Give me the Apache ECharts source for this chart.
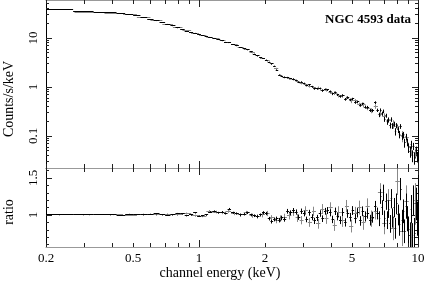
<!DOCTYPE html>
<html><head><meta charset="utf-8">
<script src="https://cdn.jsdelivr.net/npm/echarts@6/dist/echarts.min.js"></script>
<style>html,body{margin:0;padding:0;background:#fff}#c{width:436px;height:285px}</style>
</head><body><div id="c"></div>
<script>
// ---- black (pn) spectrum: bin edges (keV), counts/s/keV, data/model ratio and its error
const pnEdges = [0.200,0.266,0.330,0.372,0.420,0.460,0.500,0.540,0.580,0.620,0.660,0.700,0.740,0.780,0.820,0.860,0.900,0.940,0.980,
  1.02,1.06,1.10,1.15,1.20,1.25,1.30,1.35,1.40,1.46,1.52,1.58,1.64,1.70,1.76,1.82,1.88,1.94,2.00,
  2.06,2.12,2.18,2.24,2.30,2.36,2.42,2.50,2.58,2.66,2.74,2.82,2.90,2.98,3.06,3.15,3.24,3.33,3.42,3.52,3.62,3.72,3.82,3.92,
  4.03,4.14,4.25,4.36,4.48,4.60,4.72,4.85,4.98,5.11,5.25,5.39,5.53,5.68,5.83,5.98,
  6.14,6.30,6.46,6.63,
  6.72,6.81,6.90,7.00,7.10,7.20,7.30,7.40,7.51,7.62,7.73,7.84,7.95,8.06,8.18,8.30,8.42,8.54,8.66,
  8.78,8.90,9.02,9.14,9.26,9.38,9.50,9.62,9.74,9.87,10.0];
const pnCounts = [38.5,34,33.7,32.8,31.3,30.2,28.5,26.2,23.8,22.3,
  20.6,19.0,17.6,16.0,14.7,13.5,13.0,12.5,11.6,11.1,10.6,
  10.3,9.9,9.2,8.8,8.2,8.0,7.4,6.9,6.4,6.0,5.7,5.2,4.7,4.3,3.95,3.8,3.55,
  3.2,2.95,2.65,2.2,1.75,1.65,1.57,1.56,1.48,1.45,1.36,1.25,1.26,1.18,1.07,1.10,1.01,0.92,0.92,0.93,0.84,0.89,0.87,0.81,
  0.72,0.77,0.69,0.64,0.67,0.56,0.61,0.545,0.57,0.485,0.495,0.425,0.45,0.39,0.385,0.335,0.33,0.48,
  0.335,
  0.271,0.338,0.284,0.319,0.220,0.260,0.194,0.214,0.165,0.217,0.161,0.175,0.123,0.163,0.133,0.108,0.157,0.099,0.105,0.0725,
  0.096,0.075,0.058,0.048,0.067,0.040,0.062,0.036,0.051,0.038];
const pnRatio = [1.00,1.00,1.005,1.00,0.995,1.01,1.005,1.00,1.01,1.015,
  1.00,0.995,1.00,1.02,1.015,0.99,1.00,1.03,0.985,0.99,1.00,
  1.04,1.05,1.03,1.04,1.02,1.08,1.03,1.02,1.00,1.01,1.03,1.00,0.99,0.98,1.00,1.03,1.02,
  0.95,0.91,0.94,0.95,0.93,0.96,0.94,1.05,1.03,1.06,1.04,0.97,1.05,1.02,0.94,1.03,0.97,0.92,0.96,1.02,0.95,1.05,1.06,1.03,
  0.94,1.05,0.98,0.93,1.04,0.90,1.02,0.97,1.06,0.95,1.03,0.92,1.05,0.98,1.02,0.93,0.97,1.12,
  1.02,
  0.95,1.25,1.10,1.30,0.95,1.18,0.93,1.08,0.88,1.22,0.96,1.10,0.82,1.15,1.00,0.87,1.35,0.92,1.05,0.78,
  1.12,0.95,0.80,0.72,1.08,0.70,1.20,0.75,1.15,0.95];
const pnRatioErr = [0.004,0.004,0.005,0.005,0.005,0.006,0.006,0.006,0.007,0.007,
  0.007,0.008,0.008,0.008,0.009,0.009,0.009,0.01,0.01,0.01,0.011,
  0.012,0.012,0.013,0.013,0.014,0.015,0.014,0.015,0.016,0.016,0.017,0.018,0.018,0.019,0.02,0.021,0.022,
  0.024,0.025,0.026,0.028,0.03,0.031,0.03,0.032,0.033,0.034,0.035,0.036,0.037,0.038,0.038,0.04,0.041,0.042,0.042,0.044,0.045,0.046,0.047,0.048,
  0.05,0.05,0.052,0.053,0.054,0.056,0.057,0.058,0.06,0.062,0.063,0.065,0.066,0.068,0.07,0.072,0.074,0.07,
  0.08,
  0.10,0.10,0.10,0.11,0.11,0.11,0.12,0.12,0.12,0.13,0.13,0.13,0.14,0.14,0.14,0.15,0.15,0.15,0.16,0.16,
  0.17,0.17,0.18,0.18,0.19,0.19,0.2,0.21,0.22,0.23];

// ---- grey (MOS) spectrum
const mosEdges = [0.27,0.37,0.45,0.52,0.60,0.68,0.76,0.84,0.92,1.00,
  1.08,1.16,1.24,1.32,1.40,1.50,1.60,1.70,1.80,1.90,
  2.00,2.10,2.20,2.30,2.40,2.52,2.64,2.76,2.88,3.00,
  3.14,3.28,3.42,3.58,3.74,3.90,4.08,4.26,4.44,4.64,
  4.84,5.06,5.28,5.52,5.76,6.02,6.28,6.56,6.86,7.18,
  7.52,7.88,8.26,8.66,9.08,9.52,10.0];
const mosCounts = [33.8,32.0,30.0,26.5,22.5,19.2,16.0,13.9,12.6,11.2,
  10.4,9.6,8.7,8.0,7.2,6.4,5.9,5.0,4.3,3.85,
  3.4,2.95,2.35,1.72,1.58,1.47,1.42,1.30,1.20,1.10,
  1.04,0.96,0.95,0.85,0.87,0.77,0.75,0.66,0.66,0.59,
  0.52,0.52,0.44,0.43,0.37,0.33,0.40,0.28,0.25,0.21,
  0.175,0.155,0.10,0.092,0.06,0.045];
const mosRatio = [1.00,1.005,0.995,1.01,1.00,1.01,1.00,1.02,0.99,0.985,
  1.05,1.04,1.03,1.05,1.02,1.00,1.03,0.99,0.98,1.00,
  1.02,0.96,0.93,0.95,0.97,0.99,1.04,0.96,0.93,1.06,
  0.90,1.05,0.88,1.08,0.95,1.10,0.86,1.04,0.92,1.12,
  0.85,1.02,1.10,0.90,1.12,0.95,1.05,1.30,0.88,1.20,
  0.82,1.45,0.78,1.18,0.72,1.15];
const mosRatioErr = [0.006,0.007,0.008,0.009,0.01,0.011,0.012,0.013,0.014,0.015,
  0.017,0.018,0.019,0.02,0.022,0.024,0.026,0.028,0.03,0.032,
  0.035,0.038,0.042,0.045,0.047,0.05,0.052,0.054,0.056,0.058,
  0.06,0.062,0.065,0.068,0.07,0.072,0.075,0.078,0.08,0.083,
  0.086,0.09,0.094,0.1,0.105,0.11,0.11,0.13,0.14,0.15,
  0.16,0.18,0.2,0.22,0.25,0.28];

// ---- tick values and labels
const xLabels = [0.2, 0.5, 1, 2, 5, 10];
const xMinor = [0.2,0.3,0.4,0.5,0.6,0.7,0.8,0.9,2,3,4,5,6,7,8,9];
const xMajor = [1, 10];
const countLabels = [0.1, 1, 10];
const countMinor = [0.03,0.04,0.05,0.06,0.07,0.08,0.09,0.2,0.3,0.4,0.5,0.6,0.7,0.8,0.9,2,3,4,5,6,7,8,9,20,30,40,50];
const countMajor = [0.1, 1, 10];
const ratioLabels = [1, 1.5];
const ratioMinor = [0.6,0.7,0.8,0.9,1.1,1.2,1.3,1.4,1.6];
const ratioMajor = [1, 1.5];

function buildBins(edges, counts, ratio, rerr) {
  const top = [], bot = [];
  for (let i = 0; i < counts.length; i++) {
    top.push([edges[i], edges[i+1], counts[i], counts[i] * rerr[i] / ratio[i]]);
    bot.push([edges[i], edges[i+1], ratio[i], rerr[i]]);
  }
  return {top, bot};
}
const pn = buildBins(pnEdges, pnCounts, pnRatio, pnRatioErr);
const mos = buildBins(mosEdges, mosCounts, mosRatio, mosRatioErr);

function crossRender(color) {
  return function (params, api) {
    const lo = api.value(0), hi = api.value(1), v = api.value(2), e = api.value(3);
    const mid = Math.sqrt(lo * hi);
    const a = api.coord([lo, v]), b = api.coord([hi, v]);
    const c = api.coord([mid, v - e]), d = api.coord([mid, v + e]);
    const yy = Math.round(a[1] - 0.5) + 0.5;
    const xx = Math.round(c[0] - 0.5) + 0.5;
    return {type: 'group', children: [
      {type: 'line', shape: {x1: a[0], y1: yy, x2: b[0], y2: yy}, style: {stroke: color, lineWidth: 1}},
      {type: 'line', shape: {x1: xx, y1: c[1], x2: xx, y2: d[1]}, style: {stroke: color, lineWidth: 1}}
    ]};
  };
}

const FONT = 'Liberation Serif';
const TICK = '#222';
const fmt = v => String(Number((+v).toPrecision(3)));

function xAxes(grid, withLabels) {
  const base = {type: 'log', logBase: 10, min: 0.2, max: 10, gridIndex: grid,
    splitLine: {show: false}, minorTick: {show: false}};
  const line = {show: true, onZero: false, lineStyle: {color: '#999', width: 1}};
  return [
    Object.assign({}, base, {position: 'bottom', axisLine: line,
      axisTick: {show: true, inside: true, length: 4, customValues: xMinor, lineStyle: {color: TICK}},
      axisLabel: {show: withLabels, customValues: xLabels, formatter: fmt, margin: 5,
        fontFamily: FONT, fontSize: 13, color: '#000'}}),
    Object.assign({}, base, {position: 'bottom', axisLine: {show: false},
      axisTick: {show: true, inside: true, length: 7, customValues: xMajor, lineStyle: {color: TICK}},
      axisLabel: {show: false}}),
    Object.assign({}, base, {position: 'top', axisLine: line,
      axisTick: {show: true, inside: true, length: 4, customValues: xMinor, lineStyle: {color: TICK}},
      axisLabel: {show: false}}),
    Object.assign({}, base, {position: 'top', axisLine: {show: false},
      axisTick: {show: true, inside: true, length: 7, customValues: xMajor, lineStyle: {color: TICK}},
      axisLabel: {show: false}})
  ];
}
function yAxes(grid, type, min, max, labels, minor, major) {
  const base = {type: type, min: min, max: max, gridIndex: grid, splitLine: {show: false}, minorTick: {show: false}};
  if (type === 'log') base.logBase = 10;
  const line = {show: true, onZero: false, lineStyle: {color: '#000', width: 1}};
  return [
    Object.assign({}, base, {position: 'left', axisLine: line,
      axisTick: {show: true, inside: true, length: 3, customValues: minor, lineStyle: {color: TICK}},
      axisLabel: {show: true, customValues: labels, formatter: fmt, rotate: 90, margin: 6,
        fontFamily: FONT, fontSize: 13, color: '#000'}}),
    Object.assign({}, base, {position: 'left', axisLine: {show: false},
      axisTick: {show: true, inside: true, length: 6, customValues: major, lineStyle: {color: TICK}},
      axisLabel: {show: false}}),
    Object.assign({}, base, {position: 'right', axisLine: line,
      axisTick: {show: true, inside: true, length: 3, customValues: minor, lineStyle: {color: TICK}},
      axisLabel: {show: false}}),
    Object.assign({}, base, {position: 'right', axisLine: {show: false},
      axisTick: {show: true, inside: true, length: 6, customValues: major, lineStyle: {color: TICK}},
      axisLabel: {show: false}})
  ];
}

const chart = echarts.init(document.getElementById('c'), null, {renderer: 'canvas'});
chart.setOption({
  animation: false,
  backgroundColor: '#fff',
  grid: [
    {left: 46, right: 18, top: 0, height: 168, containLabel: false},
    {left: 46, right: 18, top: 168, height: 79, containLabel: false}
  ],
  xAxis: xAxes(0, false).concat(xAxes(1, true)),
  yAxis: yAxes(0, 'log', 0.0222, 59.6, countLabels, countMinor, countMajor)
    .concat(yAxes(1, 'value', 0.5676, 1.635, ratioLabels, ratioMinor, ratioMajor)),
  graphic: [
    {type: 'text', x: 9, y: 99, rotation: Math.PI / 2,
      style: {text: 'Counts/s/keV', fontFamily: FONT, fontSize: 14, fill: '#000', align: 'center', verticalAlign: 'middle'}},
    {type: 'text', x: 9, y: 212, rotation: Math.PI / 2,
      style: {text: 'ratio', fontFamily: FONT, fontSize: 14, fill: '#000', align: 'center', verticalAlign: 'middle'}},
    {type: 'text', x: 220, y: 273,
      style: {text: 'channel energy (keV)', fontFamily: FONT, fontSize: 14, fill: '#000', align: 'center', verticalAlign: 'middle'}},
    {type: 'text', x: 411, y: 20,
      style: {text: 'NGC 4593 data', fontFamily: FONT, fontSize: 13, fontWeight: 'bold', fill: '#000', align: 'right', verticalAlign: 'middle'}}
  ],
  series: [
    {type: 'custom', name: 'MOS', xAxisIndex: 0, yAxisIndex: 0, clip: true, renderItem: crossRender('#888'),
      encode: {x: [0, 1], y: 2}, data: mos.top},
    {type: 'custom', name: 'pn', xAxisIndex: 0, yAxisIndex: 0, clip: true, renderItem: crossRender('#000'),
      encode: {x: [0, 1], y: 2}, data: pn.top},
    {type: 'custom', name: 'MOS ratio', xAxisIndex: 4, yAxisIndex: 4, clip: true, renderItem: crossRender('#888'),
      encode: {x: [0, 1], y: 2}, data: mos.bot},
    {type: 'custom', name: 'pn ratio', xAxisIndex: 4, yAxisIndex: 4, clip: true, renderItem: crossRender('#000'),
      encode: {x: [0, 1], y: 2}, data: pn.bot}
  ]
});
</script></body></html>
